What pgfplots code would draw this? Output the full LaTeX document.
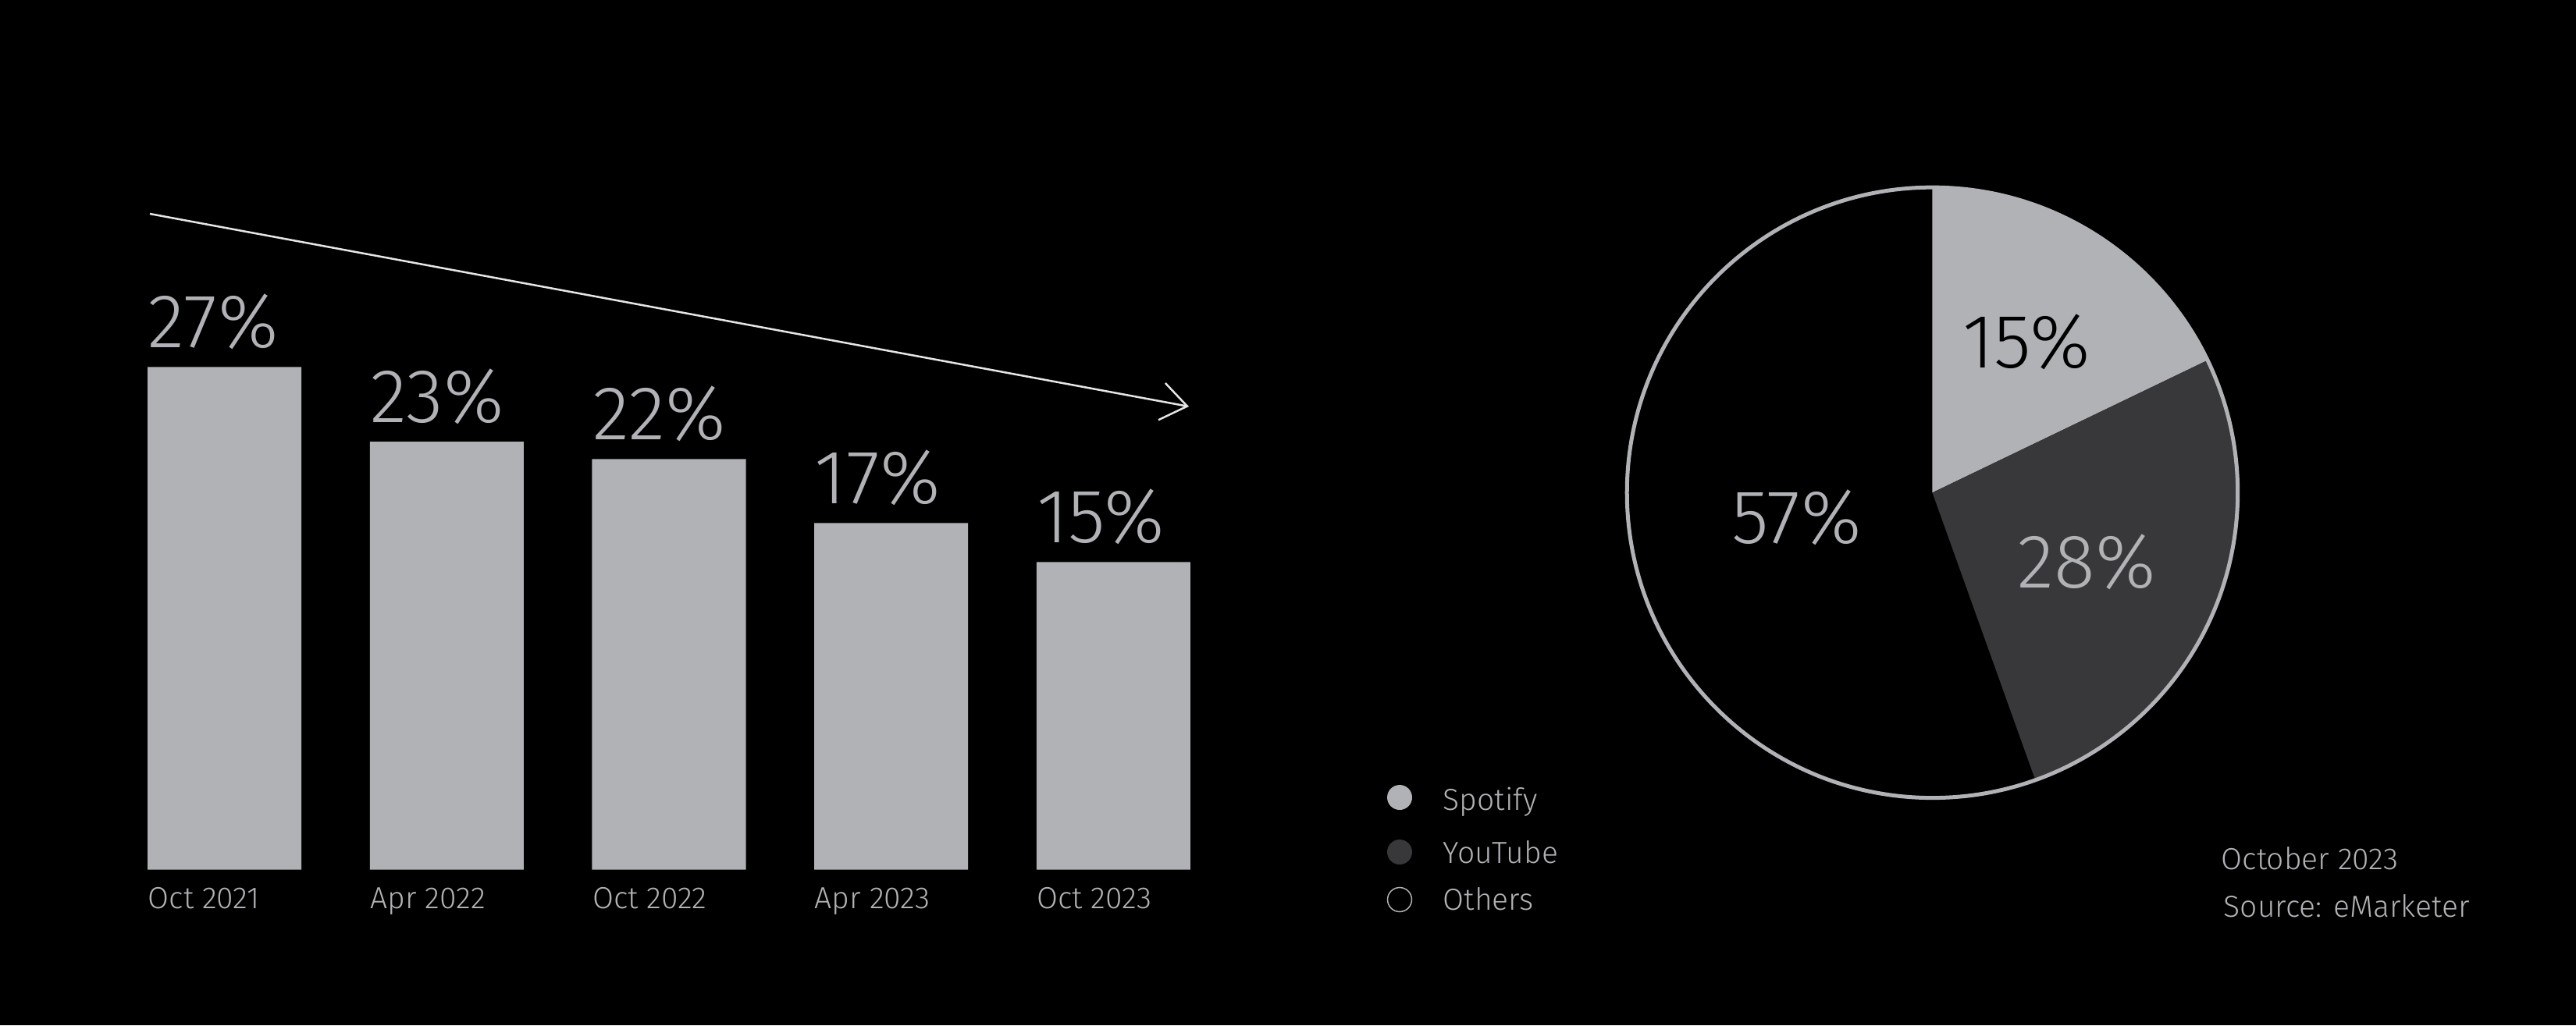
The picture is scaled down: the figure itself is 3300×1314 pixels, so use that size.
\documentclass[border=0pt]{standalone}
\usepackage{fontspec}
\setmainfont{Fira Sans Light}
\usepackage{pgfplots}
\pgfplotsset{compat=1.18}
\usetikzlibrary{arrows.meta}
\definecolor{lg}{HTML}{B1B2B6}
\definecolor{dg}{HTML}{38383A}
\definecolor{ar}{HTML}{E6E6E8}
\newcommand{\smf}{\fontsize{11.1}{13}\selectfont}
\newcommand{\bgf}{\fontsize{27.8}{31}\selectfont}
\begin{document}
\begin{tikzpicture}
\begin{scope}[x=0.01cm,y=-0.01cm]
\fill[black] (0,0) rectangle (3300,1314);
\end{scope}

\begin{axis}[scale only axis, width=14.225cm, height=6.44cm,
  at={(1.4525cm,-11.14cm)}, anchor=south west,
  xmin=-0.5, xmax=4.5, ymin=0, ymax=27, enlargelimits=false,
  axis line style={draw=none}, major tick length=0, ytick=\empty,
  xtick={0,...,4},
  xticklabels={Oct 2021, Apr 2022, Oct 2022, Apr 2023, Oct 2023},
  xticklabel style={anchor=base west, xshift=-0.985cm, yshift=-0.5cm, text=lg, font=\smf, inner sep=0},
  clip=false, ybar, bar width=1.97cm,
  nodes near coords, point meta=explicit symbolic,
  every node near coord/.append style={anchor=base west, xshift=-0.985cm, yshift=0.25cm, text=lg, font=\bgf, inner sep=0}]
\addplot[fill=lg, draw=none] coordinates {(0,27) [27\%] (1,22.98) [23\%] (2,22.05) [22\%] (3,18.62) [17\%] (4,16.52) [15\%]};
\end{axis}

\begin{axis}[hide axis, scale only axis, width=7.82cm, height=7.82cm,
  xmin=-1, xmax=1, ymin=-1, ymax=1, at={(24.74cm,-6.31cm)}, anchor=center, clip=false]
\fill[black] (axis cs:0,0) circle[radius=3.91cm];
\fill[lg] (axis cs:0,0) -- ++(90:3.91cm) arc[start angle=90, delta angle=-64.3, radius=3.91cm] -- cycle;
\fill[dg] (axis cs:0,0) -- ++(25.7:3.91cm) arc[start angle=25.7, delta angle=-96, radius=3.91cm] -- cycle;
\draw[lg, line width=0.05cm] (axis cs:0,0) circle[radius=3.91cm];
\node[font=\bgf, text=black, inner sep=0] at (axis cs:0.309,0.494) {15\%};
\node[font=\bgf, text=lg, inner sep=0] at (axis cs:0.506,-0.228) {28\%};
\node[font=\bgf, text=lg, inner sep=0] at (axis cs:-0.445,-0.082) {57\%};
\end{axis}

\begin{scope}[x=0.01cm,y=-0.01cm]
\draw[ar, line width=0.025cm, -{Straight Barb[length=0.33cm, width=0.48cm, line width=0.025cm]}] (192,274) -- (1523,521);
\fill[lg] (1793,1022) circle[radius=16];
\fill[dg] (1793,1092) circle[radius=16];
\draw[lg, line width=0.015cm] (1793,1153) circle[radius=15.5];
\node[anchor=base west, text=lg, font=\smf, inner sep=0] at (1848,1038) {Spotify};
\node[anchor=base west, text=lg, font=\smf, inner sep=0] at (1848,1106) {YouTube};
\node[anchor=base west, text=lg, font=\smf, inner sep=0] at (1848,1166) {Others};
\node[anchor=base west, text=lg, font=\smf, inner sep=0] at (2845,1114) {October 2023};
\node[anchor=base west, text=lg, font=\smf, inner sep=0] at (2848,1175) {Source: eMarketer};
\end{scope}
\end{tikzpicture}
\end{document}
